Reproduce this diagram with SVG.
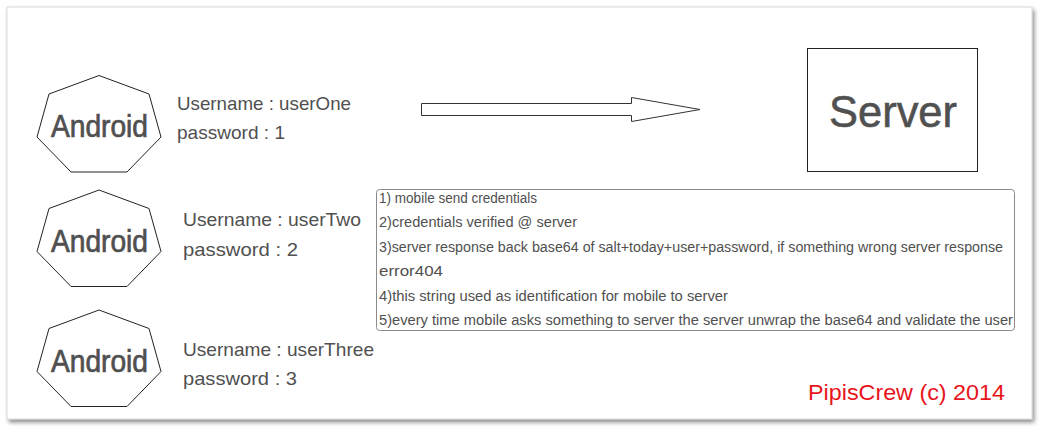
<svg xmlns="http://www.w3.org/2000/svg" width="1051" height="437" viewBox="0 0 1051 437">
<defs>
<filter id="shadow" x="-5%" y="-5%" width="110%" height="115%">
<feDropShadow dx="2" dy="3" stdDeviation="2" flood-color="#000" flood-opacity="0.45"/>
</filter>
<polygon id="hept" points="99,0 149,18.5 161,61.5 127,96.5 71,96.5 37,61.5 49,18.5"/>
</defs>
<style>
.hand{font-family:"Liberation Sans","DejaVu Sans",sans-serif;fill:#505050}
.shape{fill:#fff;stroke:#222;stroke-width:1}
.android{font-size:31px;text-anchor:middle;stroke:#505050;stroke-width:0.7}
.lbl{font-size:19px}
.note{font-size:14px}
</style>
<rect x="0" y="0" width="1051" height="437" fill="#fff"/>
<rect id="panel" x="7" y="7" width="1025" height="412" fill="#fff" stroke="#d0d0d0" stroke-width="0.8" filter="url(#shadow)"/>

<g id="android1">
<use href="#hept" class="shape" transform="translate(0,75.5)"/>
<text class="hand android" x="99.5" y="137" textLength="97" lengthAdjust="spacingAndGlyphs">Android</text>
</g>
<g id="user1">
<text class="hand lbl" x="177" y="110" textLength="174" lengthAdjust="spacingAndGlyphs">Username : userOne</text>
<text class="hand lbl" x="177" y="139" textLength="108" lengthAdjust="spacingAndGlyphs">password : 1</text>
</g>

<g id="android2">
<use href="#hept" class="shape" transform="translate(0,190)"/>
<text class="hand android" x="99.5" y="252" textLength="97" lengthAdjust="spacingAndGlyphs">Android</text>
</g>
<g id="user2">
<text class="hand lbl" x="183" y="226" textLength="178" lengthAdjust="spacingAndGlyphs">Username : userTwo</text>
<text class="hand lbl" x="183" y="256" textLength="115" lengthAdjust="spacingAndGlyphs">password : 2</text>
</g>

<g id="android3">
<use href="#hept" class="shape" transform="translate(0,310)"/>
<text class="hand android" x="99.5" y="372" textLength="97" lengthAdjust="spacingAndGlyphs">Android</text>
</g>
<g id="user3">
<text class="hand lbl" x="183" y="356" textLength="191" lengthAdjust="spacingAndGlyphs">Username : userThree</text>
<text class="hand lbl" x="183" y="385" textLength="114" lengthAdjust="spacingAndGlyphs">password : 3</text>
</g>

<g id="server">
<rect x="807.5" y="48.5" width="170" height="123" class="shape"/>
<text class="hand" x="893" y="127" font-size="44" text-anchor="middle" stroke="#505050" stroke-width="0.6" textLength="128" lengthAdjust="spacingAndGlyphs">Server</text>
</g>

<g id="notes">
<rect x="376.5" y="189.5" width="638" height="141" rx="3" ry="3" fill="#fff" stroke="#8a8a8a" stroke-width="1"/>
<text class="hand note" x="379" y="203" textLength="158" lengthAdjust="spacingAndGlyphs">1) mobile send credentials</text>
<text class="hand note" x="379" y="227" textLength="198" lengthAdjust="spacingAndGlyphs">2)credentials verified @ server</text>
<text class="hand note" x="379" y="252" textLength="624" lengthAdjust="spacingAndGlyphs">3)server response back base64 of salt+today+user+password, if something wrong server response</text>
<text class="hand note" x="379" y="276" textLength="64" lengthAdjust="spacingAndGlyphs">error404</text>
<text class="hand note" x="379" y="301" textLength="349" lengthAdjust="spacingAndGlyphs">4)this string used as identification for mobile to server</text>
<text class="hand note" x="379" y="325" textLength="634" lengthAdjust="spacingAndGlyphs">5)every time mobile asks something to server the server unwrap the base64 and validate the user</text>
</g>

<g id="connectors">
<polygon points="421.5,103.5 631.5,103.5 631.5,97.5 700,109.5 631.5,121.5 631.5,115.5 421.5,115.5" fill="#fff" stroke="#333" stroke-width="1"/>
</g>

<g id="copyright">
<text x="808" y="400" font-family="Liberation Sans, DejaVu Sans, sans-serif" font-size="22" fill="#e8141b" textLength="197" lengthAdjust="spacingAndGlyphs">PipisCrew (c) 2014</text>
</g>
</svg>
